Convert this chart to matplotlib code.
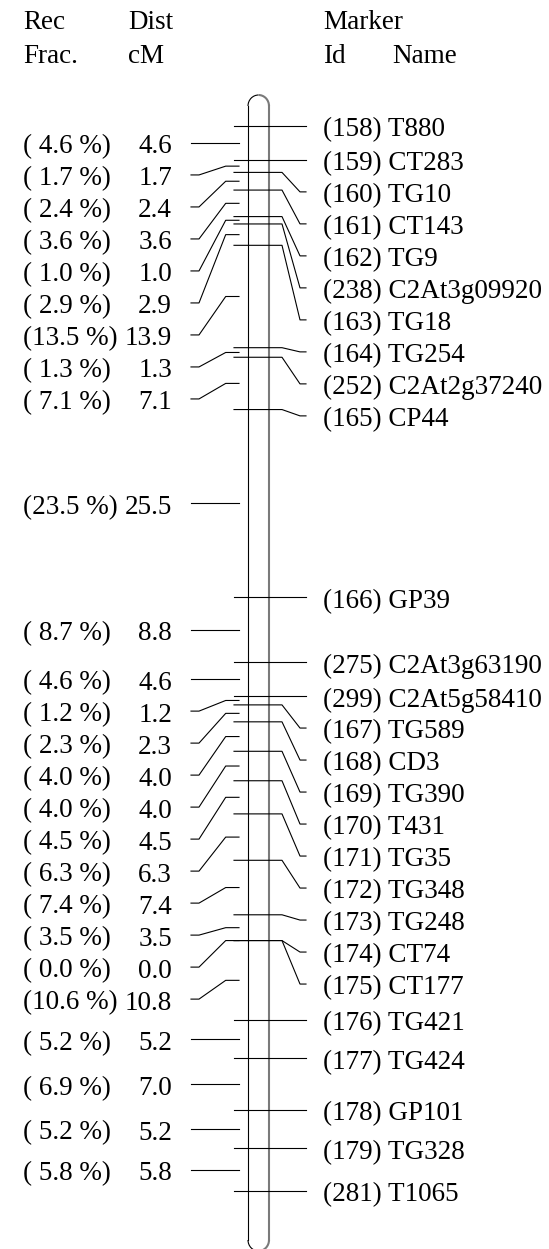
import numpy as np
import matplotlib
matplotlib.use("Agg")
import matplotlib.pyplot as plt
from matplotlib.patches import Arc
from matplotlib.transforms import offset_copy

# linkage group data: markers top to bottom, interval distances between neighbours
marker_ids = [158, 159, 160, 161, 162, 238, 163, 164, 252, 165, 166, 275, 299, 167,
              168, 169, 170, 171, 172, 173, 174, 175, 176, 177, 178, 179, 281]
marker_names = ["T880", "CT283", "TG10", "CT143", "TG9", "C2At3g09920", "TG18",
                "TG254", "C2At2g37240", "CP44", "GP39", "C2At3g63190", "C2At5g58410",
                "TG589", "CD3", "TG390", "T431", "TG35", "TG348", "TG248", "CT74",
                "CT177", "TG421", "TG424", "GP101", "TG328", "T1065"]
dist_cm = [4.6, 1.7, 2.4, 3.6, 1.0, 2.9, 13.9, 1.3, 7.1, 25.5, 8.8, 4.6, 1.2, 2.3,
           4.0, 4.0, 4.5, 6.3, 7.4, 3.5, 0.0, 10.8, 5.2, 7.0, 5.2, 5.8]
rec_frac = [4.6, 1.7, 2.4, 3.6, 1.0, 2.9, 13.5, 1.3, 7.1, 23.5, 8.7, 4.6, 1.2, 2.3,
            4.0, 4.0, 4.5, 6.3, 7.4, 3.5, 0.0, 10.6, 5.2, 6.9, 5.2, 5.8]

W, H = 549, 1249
PX_PER_CM = 7.365
TOP = 126              # pixel row of the first marker
GAP = 32 / PX_PER_CM   # minimum spacing between labels, in cM

pos = np.concatenate([[0.0], np.cumsum(dist_cm)])
mids = (pos[:-1] + pos[1:]) / 2


def spread(ys, gap):
    out = []
    for v in ys:
        if out and v < out[-1] + gap:
            v = out[-1] + gap
        out.append(v)
    return np.array(out)


def px(y):
    return (y - TOP) / PX_PER_CM


lab_r = spread(pos, GAP)
lab_l = spread(mids, GAP)

plt.rcParams["font.family"] = ["Liberation Serif", "DejaVu Serif"]
FS = 19.5
LW = 0.8

fig = plt.figure(figsize=(W / 100, H / 100), dpi=100)
ax = fig.add_axes([0, 0, 1, 1])
ax.axis("off")
ax.set_xlim(0, W)
ax.set_ylim(px(H), px(0))

# chromosome outline
y_top, y_bot = px(106), px(1240)
ax.plot([248, 248], [y_top, y_bot], color="black", lw=LW)
ax.plot([269, 269], [y_top, y_bot], color="#7a7a7a", lw=1.5)
ah = 2 * 11 / PX_PER_CM
ax.add_patch(Arc((258.5, y_top), 21, ah, theta1=180, theta2=270, color="black", lw=LW))
ax.add_patch(Arc((258.5, y_top), 21, ah, theta1=270, theta2=360, color="#7a7a7a", lw=1.5))
ax.add_patch(Arc((258.5, y_bot), 21, ah, theta1=90, theta2=180, color="black", lw=LW))
ax.add_patch(Arc((258.5, y_bot), 21, ah, theta1=0, theta2=90, color="#7a7a7a", lw=1.5))

txt = offset_copy(ax.transData, fig=fig, x=0, y=-10.5, units="dots")

# markers on the right
for p, l, mid, name in zip(pos, lab_r, marker_ids, marker_names):
    ax.plot([234, 282, 300, 306], [p, p, l, l], color="black", lw=LW)
    ax.text(323, l, f"({mid}) {name}", fontsize=FS, ha="left", va="baseline",
            transform=txt)

# intervals on the left
for m, l, d, r in zip(mids, lab_l, dist_cm, rec_frac):
    ax.plot([239, 225.7, 199, 191], [m, m, l, l], color="black", lw=LW)
    ax.text(23, l, f"({r:4.1f} %)", fontsize=FS, ha="left", va="baseline", transform=txt)
    ax.text(172, l, f"{d:.1f}", fontsize=FS, ha="right", va="baseline", transform=txt)

# column headers
for x, y, s in [(23, 29, "Rec"), (23, 63, "Frac."), (128, 29, "Dist"), (128, 63, "cM"),
                (323, 29, "Marker"), (323, 63, "Id"), (392, 63, "Name")]:
    ax.text(x, px(y), s, fontsize=FS, ha="left", va="baseline")

fig.savefig("out.png", dpi=100)
